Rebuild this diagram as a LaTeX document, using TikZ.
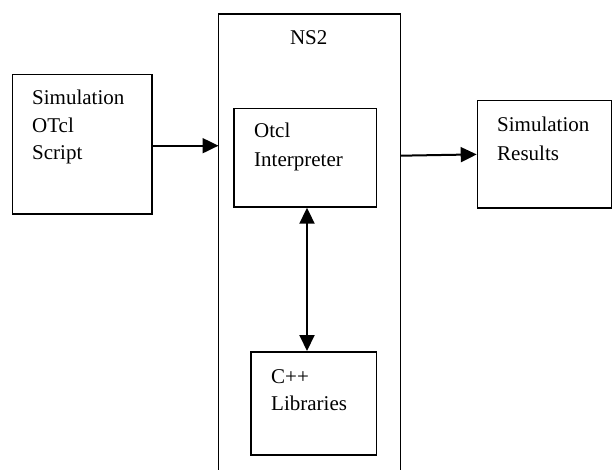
\documentclass[tikz,border=0pt]{standalone}
\usepackage{fontspec}
\setmainfont{Liberation Serif}
\usetikzlibrary{arrows.meta,calc}
\begin{document}
\begin{tikzpicture}[x=1pt,y=-1pt,
  box/.style={draw=black,line width=1.5pt,inner sep=0pt,anchor=north west},
  lbl/.style={anchor=base west,inner sep=0pt,font=\fontsize{21}{25}\selectfont},
  tip/.style={Triangle[length=16pt,width=15pt]},
  conn/.style={line width=2pt,-{Triangle[length=16pt,width=15pt]}},
  conn2/.style={line width=2pt,{Triangle[length=16pt,width=15pt]}-{Triangle[length=16pt,width=15pt]}}]
\useasboundingbox (0,0) rectangle (612,470);

% boxes
\node[box,minimum width=139.5pt,minimum height=139pt] (script) at (11.5,74) {};
\node[draw=none,inner sep=0pt,anchor=north west,minimum width=181.5pt,minimum height=460pt] (ns2) at (218.5,14) {};
\draw[line width=1.5pt] (ns2.south west) -- (ns2.north west) -- (ns2.north east) -- (ns2.south east);
\node[box,minimum width=142.5pt,minimum height=98.5pt] (otcl) at (233.3,107.7) {};
\node[box,minimum width=125.7pt,minimum height=103.3pt] (cpp) at (250,351) {};
\node[box,minimum width=134.5pt,minimum height=107.3pt] (res) at (476.7,100) {};

% labels
\node[lbl] (t1) at (32,105) {Simulation};
\node[lbl] (t2) at (32,132.5) {OTcl};
\node[lbl] (t3) at (32,160) {Script};
\node[lbl,anchor=base] (tns) at (308.7,45) {NS2};
\node[lbl] (t4) at (254,138) {Otcl};
\node[lbl] (t5) at (254,166.5) {Interpreter};
\node[lbl] (t6) at (271,383) {C++};
\node[lbl] (t7) at (271,410.5) {Libraries};
\node[lbl] (t8) at (497,131.5) {Simulation};
\node[lbl] (t9) at (497,160.5) {Results};

% connectors
\coordinate (a) at (0,145.7);
\coordinate (b) at (0,155.7);
\coordinate (v) at (307,0);
\draw[conn] (script.east |- a) -- (ns2.west |- a);
\draw[conn] (ns2.east |- b) -- (res.west);
\draw[conn2] (otcl.south -| v) -- (cpp.north -| v);
\end{tikzpicture}
\end{document}
